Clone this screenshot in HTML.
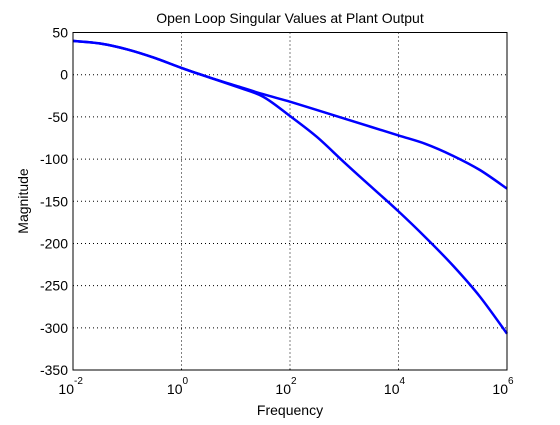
<!DOCTYPE html>
<html><head><meta charset="utf-8"><style>
body{margin:0;background:#fff;}
svg text{font-family:"Liberation Sans",sans-serif;}
</style></head><body>
<svg id="chart" width="560" height="420" viewBox="0 0 560 420" xmlns="http://www.w3.org/2000/svg">
<rect width="560" height="420" fill="#fff"/>
<g id="grid"></g>
<g id="series"></g>
<rect x="73" y="32.5" width="434" height="337.5" fill="none" stroke="#000" stroke-width="1"/>
<g id="ticks"></g>
<text x="290" y="23" font-size="14" text-anchor="middle">Open Loop Singular Values at Plant Output</text>
<text x="290" y="415" font-size="14" text-anchor="middle">Frequency</text>
<text x="0" y="0" font-size="14" text-anchor="middle" transform="translate(28,201) rotate(-90)">Magnitude</text>
</svg>
<script>
const logFreq = [-2,-1.5,-1,-0.5,0,0.5,1,1.5,2,2.5,3,3.5,4,4.5,5,5.5,6];
const sigmaMax = [40,37,30,20,8,-3,-13,-23,-32,-42,-52,-62,-72,-82,-96,-113,-135];
const sigmaMin = [40,37,30,20,8,-3,-14,-26,-49,-74,-104,-133,-162,-193,-226,-263,-307];
const yTicks = [50,0,-50,-100,-150,-200,-250,-300,-350];
const xTickExps = [-2,0,2,4,6];
const X0=73,X1=507,Y0=32.5,Y1=370;
const xs = e => X0 + (e+2)/8*(X1-X0);
const ys = v => Y0 + (50-v)/400*(Y1-Y0);
const NS="http://www.w3.org/2000/svg";
const grid=document.getElementById('grid'),ticks=document.getElementById('ticks'),series=document.getElementById('series');
function mk(tag,attrs,parent){const el=document.createElementNS(NS,tag);for(const k in attrs)el.setAttribute(k,attrs[k]);parent.appendChild(el);return el;}
yTicks.forEach(v=>{
  const y=ys(v);
  if(v<50&&v>-350){const g=mk('line',{x1:X0,x2:X1,y1:y,y2:y,stroke:'#000','stroke-dasharray':'1,3','stroke-width':1},grid);
  
  }
  const t=mk('text',{x:X0-5,y:y+5,'font-size':14,'text-anchor':'end'},ticks);
  t.textContent=v;
  
  
});
xTickExps.forEach(e=>{
  const x=xs(e);
  if(e>-2&&e<6){const g=mk('line',{x1:x,x2:x,y1:Y0,y2:Y1,stroke:'#000','stroke-dasharray':'1,3','stroke-width':1},grid);
  
  }
  const t=mk('text',{x:x+1,y:Y1+24,'font-size':14,'text-anchor':'end'},ticks);
  t.textContent='10';
  
  
  const s=mk('text',{x:x+1,y:Y1+14,'font-size':10,'text-anchor':'start'},ticks);
  s.textContent=e;
  
  
});
function drawLine(vals,name){
  const P=logFreq.map((e,i)=>[xs(e),ys(vals[i])]);
  let d='M'+P[0][0].toFixed(1)+','+P[0][1].toFixed(1);
  for(let i=0;i<P.length-1;i++){
    const p0=P[Math.max(i-1,0)],p1=P[i],p2=P[i+1],p3=P[Math.min(i+2,P.length-1)];
    const c1=[p1[0]+(p2[0]-p0[0])/6,p1[1]+(p2[1]-p0[1])/6];
    const c2=[p2[0]-(p3[0]-p1[0])/6,p2[1]-(p3[1]-p1[1])/6];
    d+=' C'+c1.map(n=>n.toFixed(1)).join(',')+' '+c2.map(n=>n.toFixed(1)).join(',')+' '+p2.map(n=>n.toFixed(1)).join(',');
  }
  const p=mk('path',{d:d,fill:'none',stroke:'#0000ff','stroke-width':2.5,'stroke-linejoin':'round'},series);
  
  
}
drawLine(sigmaMax,'max-singular-value-line');
drawLine(sigmaMin,'min-singular-value-line');
</script>
</body></html>
